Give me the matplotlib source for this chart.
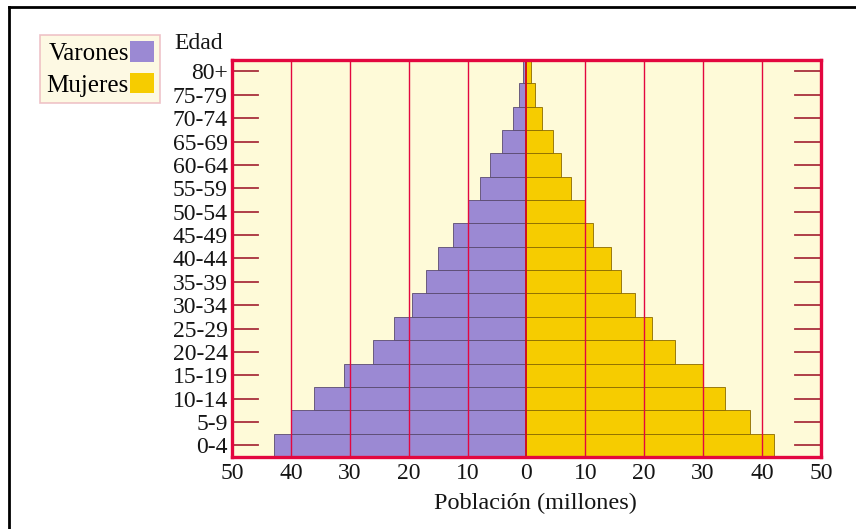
import matplotlib

matplotlib.use("Agg")
import matplotlib.pyplot as plt  # noqa: E402
from matplotlib.lines import Line2D  # noqa: E402
from matplotlib.patches import Patch  # noqa: E402

edades = ["0-4", "5-9", "10-14", "15-19", "20-24", "25-29", "30-34", "35-39",
          "40-44", "45-49", "50-54", "55-59", "60-64", "65-69", "70-74",
          "75-79", "80+"]
varones = [42.9, 39.9, 36.0, 31.0, 26.0, 22.5, 19.4, 17.1, 15.0, 12.4,
           9.9, 7.9, 6.2, 4.2, 2.3, 1.2, 0.5]
mujeres = [42.1, 37.9, 33.8, 30.0, 25.2, 21.4, 18.4, 16.1, 14.4, 11.3,
           9.9, 7.5, 5.8, 4.5, 2.6, 1.5, 0.7]
marcas_x = [-50, -40, -30, -20, -10, 0, 10, 20, 30, 40, 50]

MORADO = "#9b89d3"
AMARILLO = "#f6cc00"
FONDO = "#fefad8"
ROJO = "#e3073f"
TEXTO = "#151515"

plt.rcParams["font.family"] = ["Liberation Serif", "DejaVu Serif"]

fig = plt.figure(figsize=(8.56, 5.29), dpi=100)
ax = fig.add_axes([0.271, 0.136, 0.688, 0.751])
ax.set_facecolor(FONDO)

pos = list(range(len(edades)))
ax.barh(pos, [-v for v in varones], height=1.0, color=MORADO,
        edgecolor="#5a4a70", linewidth=0.6, zorder=2)
ax.barh(pos, mujeres, height=1.0, color=AMARILLO,
        edgecolor="#8a6a00", linewidth=0.6, zorder=2)

# líneas verticales rojas
for x in marcas_x[1:-1]:
    ax.axvline(x, color=ROJO if x != 0 else "#d01020",
               linewidth=1.0 if x != 0 else 1.4, zorder=3)

# marcas cortas hacia dentro en ambos lados
for y in pos:
    ax.plot([-50, -45.6], [y, y], color="#a8303c", linewidth=1.3, zorder=3)
    ax.plot([45.6, 50], [y, y], color="#a8303c", linewidth=1.3, zorder=3)

ax.set_xlim(-50, 50)
ax.set_ylim(-0.5, len(edades) - 0.5)
ax.set_xticks(marcas_x)
ax.set_xticklabels([str(abs(x)) for x in marcas_x])
ax.set_yticks(pos)
ax.set_yticklabels(edades)
ax.tick_params(axis="both", length=0, labelsize=17, colors=TEXTO)
ax.tick_params(axis="y", pad=3)
ax.tick_params(axis="x", pad=4)
for lado in ax.spines.values():
    lado.set_color(ROJO)
    lado.set_linewidth(2.4)
    lado.set_zorder(4)

ax.set_xlabel("Población (millones)", fontsize=17.5, color=TEXTO,
              labelpad=7)
ax.xaxis.label.set_x(0.516)
fig.text(0.232, 0.918, "Edad", fontsize=17, ha="center", va="center",
         color=TEXTO)

# leyenda con el cuadro a la derecha del texto
manijas = [Patch(facecolor=MORADO, edgecolor="none"),
           Patch(facecolor=AMARILLO, edgecolor="none")]
ley = fig.legend(manijas, ["Varones", "Mujeres"], loc="upper left",
                 bbox_to_anchor=(0.047, 0.934), markerfirst=False,
                 fontsize=18, frameon=True, fancybox=False,
                 handlelength=0.95, handleheight=0.9, handletextpad=0.05,
                 labelspacing=0.3, borderpad=0.25, borderaxespad=0.0)
ley.get_frame().set_facecolor("#fdf8dc")
ley.get_frame().set_edgecolor("#ebb4bc")
ley.get_frame().set_linewidth(1.2)

# marco negro exterior (arriba e izquierda)
fig.add_artist(Line2D([0.0105, 1.0], [0.987, 0.987], color="black",
                      linewidth=2.0, transform=fig.transFigure))
fig.add_artist(Line2D([0.0105, 0.0105], [0.0, 0.987], color="black",
                      linewidth=2.0, transform=fig.transFigure))

fig.savefig("out.png", dpi=100, facecolor="white")
